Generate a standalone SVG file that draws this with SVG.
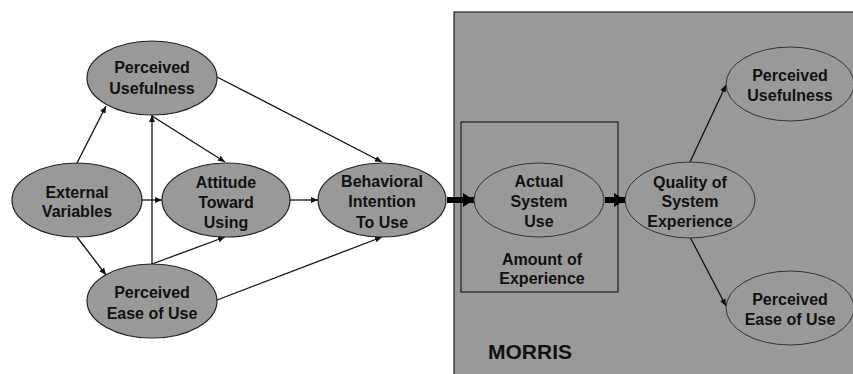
<svg xmlns="http://www.w3.org/2000/svg" width="853" height="374" viewBox="0 0 853 374">
<style>
.node ellipse{fill:#999999;stroke:#222;stroke-width:1.2}
.inner ellipse{fill:#999999;stroke:#333;stroke-width:1}
text{font-family:"Liberation Sans",Arial,sans-serif;font-weight:bold;font-size:16px;fill:#111;text-anchor:middle}
.thin{stroke:#111;stroke-width:1.3;fill:none;marker-end:url(#ah)}
.thick{stroke:#000;stroke-width:6;fill:none;marker-end:url(#big)}
</style>
<defs>
<marker id="ah" markerWidth="8" markerHeight="8" refX="7" refY="4" orient="auto" markerUnits="userSpaceOnUse">
<path d="M0,1 L7,4 L0,7 Z" fill="#111"/>
</marker>
<marker id="big" markerWidth="12" markerHeight="16" refX="11" refY="8" orient="auto" markerUnits="userSpaceOnUse">
<path d="M0,1 L11,8 L0,15 Z" fill="#000"/>
</marker>
</defs>
<rect x="0" y="0" width="853" height="374" fill="#fff"/>
<g id="morris">
<rect x="454" y="12" width="402" height="366" fill="#999999" stroke="#222" stroke-width="1.2"/>
<text x="530" y="359" style="font-size:21px">MORRIS</text>
</g>
<g id="experience-box">
<rect x="461" y="122" width="157" height="170" fill="none" stroke="#222" stroke-width="1.2"/>
<text x="542" y="265">Amount of</text>
<text x="542" y="284">Experience</text>
</g>
<g id="connectors">
<line class="thin" x1="77" y1="163" x2="106" y2="106"/>
<line class="thin" x1="77" y1="237" x2="106" y2="275"/>
<line class="thin" x1="142" y1="200" x2="162" y2="200"/>
<line class="thin" x1="152" y1="264" x2="152" y2="115"/>
<line class="thin" x1="152" y1="116" x2="225" y2="162"/>
<line class="thin" x1="152" y1="264" x2="225" y2="237"/>
<line class="thin" x1="217" y1="77" x2="382" y2="162"/>
<line class="thin" x1="217" y1="300" x2="382" y2="237"/>
<line class="thin" x1="290" y1="200" x2="318" y2="200"/>
<line class="thick" x1="447" y1="200" x2="474" y2="200"/>
<line class="thick" x1="605" y1="200" x2="625" y2="200"/>
<line class="thin" x1="690" y1="162" x2="726" y2="85"/>
<line class="thin" x1="690" y1="237" x2="726" y2="306"/>
</g>
<g id="pu" class="node">
<ellipse cx="152" cy="78" rx="65" ry="37"/>
<text x="152" y="73">Perceived</text>
<text x="152" y="94">Usefulness</text>
</g>
<g id="ev" class="node">
<ellipse cx="77" cy="200" rx="65" ry="37"/>
<text x="77" y="198">External</text>
<text x="77" y="217">Variables</text>
</g>
<g id="atu" class="node">
<ellipse cx="226" cy="200" rx="64" ry="37"/>
<text x="226" y="188">Attitude</text>
<text x="226" y="208">Toward</text>
<text x="226" y="228">Using</text>
</g>
<g id="peou" class="node">
<ellipse cx="152" cy="301" rx="65" ry="37"/>
<text x="152" y="298">Perceived</text>
<text x="152" y="319">Ease of Use</text>
</g>
<g id="bi" class="node">
<ellipse cx="382" cy="200" rx="64" ry="37"/>
<text x="382" y="187">Behavioral</text>
<text x="382" y="207">Intention</text>
<text x="382" y="228">To Use</text>
</g>
<g id="asu" class="inner">
<ellipse cx="539" cy="200" rx="65" ry="37"/>
<text x="539" y="187">Actual</text>
<text x="539" y="207">System</text>
<text x="539" y="227">Use</text>
</g>
<g id="qse" class="inner">
<ellipse cx="690" cy="200" rx="65" ry="38"/>
<text x="690" y="188">Quality of</text>
<text x="690" y="207">System</text>
<text x="690" y="227">Experience</text>
</g>
<g id="pu2" class="inner">
<ellipse cx="790" cy="84" rx="64" ry="37"/>
<text x="790" y="81">Perceived</text>
<text x="790" y="101">Usefulness</text>
</g>
<g id="peou2" class="inner">
<ellipse cx="790" cy="308" rx="64" ry="37"/>
<text x="790" y="305">Perceived</text>
<text x="790" y="325">Ease of Use</text>
</g>
</svg>
